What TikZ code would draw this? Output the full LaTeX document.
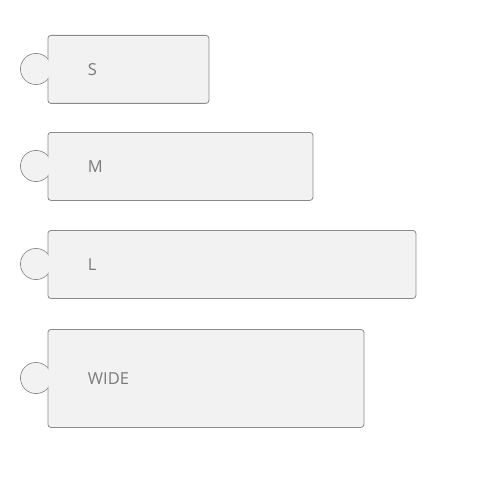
\documentclass[tikz,border=0pt]{standalone}
\usepackage{fontspec}
\setmainfont{Open Sans}
\usetikzlibrary{positioning}
\definecolor{tilefill}{HTML}{F2F2F2}
\definecolor{tileline}{HTML}{8A8A8A}
\definecolor{tiletext}{HTML}{7A7A7A}
\tikzset{
  tile/.style={draw=tileline,fill=tilefill,rounded corners=3pt,anchor=north west,
    inner xsep=40pt,inner ysep=0pt,align=left,text=tiletext,line width=0.8pt,
    font=\fontsize{16.5}{19}\selectfont},
  knob/.style={circle,draw=tileline,fill=tilefill,minimum size=31pt,inner sep=0pt,line width=0.8pt},
  knobpatch/.style={circle,fill=tilefill,minimum size=29.8pt,inner sep=0pt}
}
\begin{document}
\begin{tikzpicture}[x=1pt,y=-1pt]
  \useasboundingbox (0,0) rectangle (500,500);
  \foreach \name/\txt/\ytop/\boxw/\boxh in {s/S/35/161/68,m/M/132/265/68,l/L/230/368/68,wide/WIDE/329/316/98}{
    \pgfmathsetmacro\tw{\boxw-80}
    \node[knob] (\name knob) at (36,\ytop+\boxh/2) {};
    \node[tile,text width=\tw pt,minimum height=\boxh pt] (\name) at (47.5,\ytop) {\txt};
    \node[knobpatch] at (\name knob) {};
  }
\end{tikzpicture}
\end{document}
